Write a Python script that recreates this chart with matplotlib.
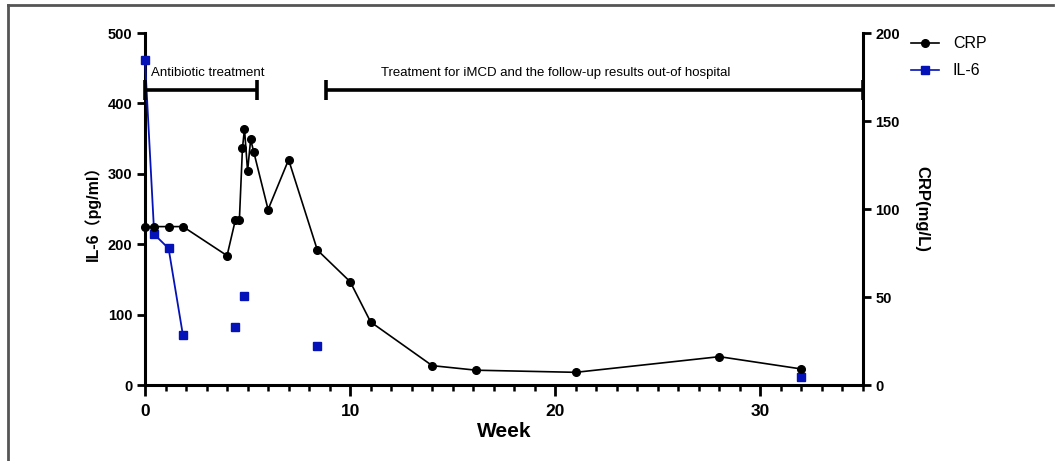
import matplotlib
matplotlib.use("Agg")
import matplotlib.pyplot as plt
from matplotlib.lines import Line2D
from matplotlib.ticker import MultipleLocator

plt.rcParams['font.family'] = ['Liberation Sans', 'Noto Sans CJK SC', 'DejaVu Sans']

# ---- data ----
crp_weeks = [0, 0.45, 1.15, 1.85, 4.0, 4.4, 4.6, 4.75, 4.85, 5.0, 5.15, 5.3,
             6.0, 7.0, 8.4, 10.0, 11.0, 14.0, 16.15, 21.0, 28.0, 32.0]
crp_values = [90, 90, 90, 90, 73.5, 93.5, 93.5, 134.5, 145.5, 121.5, 139.5, 132.5,
              99.7, 128, 76.7, 58.7, 35.8, 11, 8.4, 7.2, 16.1, 9.1]
il6_weeks = [0, 0.45, 1.15, 1.85, 4.4, 4.85, 8.4, 32.0]
il6_values = [461, 214, 194, 70.6, 82.4, 126.4, 55.8, 11]
il6_connected = 4  # first points joined by a line

x_ticks = [0, 10, 20, 30]
il6_ticks = [0, 100, 200, 300, 400, 500]
crp_ticks = [0, 50, 100, 150, 200]

periods = [
    ("Antibiotic treatment", 0, 5.45),
    ("Treatment for iMCD and the follow-up results out-of hospital", 8.83, 35),
]

blue = '#0512b8'

fig = plt.figure(figsize=(10.57, 4.61), dpi=100)
ax = fig.add_axes([145/1057, 1-385/461, (863-145)/1057, (385-33)/461])
ax2 = ax.twinx()

# IL-6 on left axis
ax.plot(il6_weeks[:il6_connected], il6_values[:il6_connected], color=blue, lw=1.3,
        zorder=3, clip_on=False)
ax.plot(il6_weeks, il6_values, ls='none', marker='s', ms=5.5, color=blue, zorder=4,
        clip_on=False)

# CRP on right axis
ax2.plot(crp_weeks, crp_values, color='black', lw=1.2, marker='o', ms=5.5, zorder=3,
         clip_on=False)

ax.set_xlim(0, 35)
ax.set_ylim(0, 500)
ax2.set_ylim(0, 200)
ax.set_xticks(x_ticks)
ax.xaxis.set_minor_locator(MultipleLocator(1))
ax.set_yticks(il6_ticks)
ax2.set_yticks(crp_ticks)

for a in (ax, ax2):
    for s in a.spines.values():
        s.set_linewidth(2.2)
    a.spines['top'].set_visible(False)
    a.patch.set_visible(False)
ax.spines['right'].set_visible(False)
ax2.spines['left'].set_visible(False)
ax2.spines['bottom'].set_visible(False)

ax.tick_params(axis='x', which='major', length=8, width=2, pad=6, labelsize=12.5)
ax.tick_params(axis='x', which='minor', length=4.5, width=1.8)
ax.tick_params(axis='y', which='major', length=6, width=2, pad=3, labelsize=10.5)
ax2.tick_params(axis='y', which='major', length=6, width=2, pad=3, labelsize=10.5)
for lab in ax.get_xticklabels() + ax.get_yticklabels() + ax2.get_yticklabels():
    lab.set_fontweight('bold')

ax.set_xlabel('Week', fontsize=15, fontweight='bold', labelpad=2)
ax.set_ylabel('IL-6（pg/ml）', fontsize=11.5, fontweight='bold', labelpad=5)
fig.text(922/1057, 1-209/461, 'CRP(mg/L)', rotation=270, fontsize=12, fontweight='bold',
         ha='center', va='center')

# treatment period bars
bar_y = 419
for label, x0, x1 in periods:
    ax.plot([x0, x1], [bar_y, bar_y], color='black', lw=2.6, clip_on=False, zorder=5,
            solid_capstyle='butt')
    for xc in (x0, x1):
        ax.plot([xc, xc], [bar_y - 14, bar_y + 14], color='black', lw=2.6, clip_on=False,
                zorder=5, solid_capstyle='butt')
ax.text(0.28, 443, periods[0][0], fontsize=9.5, ha='left', va='center')
ax.text(20.0, 443, periods[1][0], fontsize=9.5, ha='center', va='center')

# legend
handles = [Line2D([], [], color='black', lw=1.2, marker='o', ms=5.5),
           Line2D([], [], color=blue, lw=1.2, marker='s', ms=5.5)]
fig.legend(handles, ['CRP', 'IL-6'], loc='upper left', bbox_to_anchor=(905/1057, 1-30/461),
           frameon=False, fontsize=11.5, handlelength=1.7, handletextpad=0.9,
           labelspacing=0.75, borderaxespad=0)

# outer frame
fig.add_artist(Line2D([7.5/1057, 7.5/1057], [0, 1-5/461], color='#555555', lw=2))
fig.add_artist(Line2D([7.5/1057, 1053/1057], [1-5/461, 1-5/461], color='#555555', lw=2))

fig.savefig('out.png', dpi=100)
